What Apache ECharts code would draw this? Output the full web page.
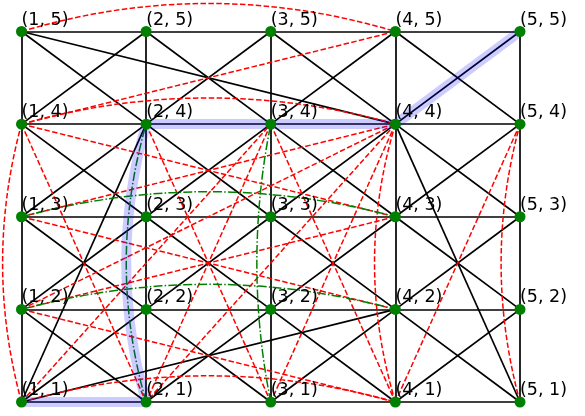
<!DOCTYPE html>
<html>
<head>
<meta charset="utf-8">
<script src="https://cdn.jsdelivr.net/npm/echarts@6/dist/echarts.min.js"></script>
<style>html,body{margin:0;padding:0;background:#fff}#c{width:585px;height:416px}</style>
</head>
<body>
<div id="c"></div>
<script>
// Node grid coordinates
const xs = [1, 2, 3, 4, 5];
const ys = [1, 2, 3, 4, 5];

// Edges written as "xy-xy" (source-target)
const blackEdges = [
  "11-21","21-31","31-41","41-51",
  "12-22","22-32","32-42","42-52",
  "13-23","23-33","33-43","43-53",
  "14-24","24-34","34-44","44-54",
  "15-25","25-35","35-45","45-55",
  "11-12","12-13","13-14","14-15",
  "21-22","22-23","23-24","24-25",
  "31-32","32-33","33-34","34-35",
  "41-42","42-43","43-44","44-45",
  "51-52","52-53","53-54","54-55",
  "11-22","21-12","21-32","31-22","31-42","41-32","41-52","51-42",
  "12-23","22-13","22-33","32-23","32-43","42-33","42-53","52-43",
  "13-24","23-14","23-34","33-24","33-44","43-34","43-54","53-44",
  "14-25","24-15","24-35","34-25","34-45","44-35","44-55","54-45",
  "15-44","44-51","11-24","11-42"
];
const redStraight = [
  "14-43","13-44","13-42","12-43","12-41","12-44","14-45","14-21",
  "24-31","34-21","34-41","44-31","44-21","11-34","54-41"
];
// curved edges: [edge, curveness]
const redCurved = [["15-45", 0.15], ["14-44", 0.14], ["11-41", 0.14], ["11-14", 0.136], ["41-44", 0.15], ["51-54", 0.136]];
const greenCurved = [["13-43", 0.134], ["12-42", 0.134], ["21-24", 0.143], ["31-34", 0.1]];
// highlighted path
const pathEdges = [["11-21", 0], ["21-24", 0.143], ["24-34", 0], ["34-44", 0], ["44-55", 0]];

const nodeName = (k) => '(' + k[0] + ', ' + k[1] + ')';
const nodes = [];
xs.forEach(x => ys.forEach(y => nodes.push({ name: '(' + x + ', ' + y + ')', value: [x, y] })));

function link(e, style) {
  const [a, b] = e.split('-');
  return { source: nodeName(a), target: nodeName(b), lineStyle: style };
}

const edgeLinks = [];
blackEdges.forEach(e => edgeLinks.push(link(e, { color: '#000', width: 1.7, type: 'solid', curveness: 0, opacity: 1 })));
redStraight.forEach(e => edgeLinks.push(link(e, { color: '#ff0000', width: 1.5, type: [5.5, 2.4], curveness: 0, opacity: 1 })));
redCurved.forEach(([e, c]) => edgeLinks.push(link(e, { color: '#ff0000', width: 1.5, type: [5.5, 2.4], curveness: c, opacity: 1 })));
greenCurved.forEach(([e, c]) => edgeLinks.push(link(e, { color: '#008000', width: 1.5, type: [9, 2.2, 1.5, 2.2], curveness: c, opacity: 1 })));

const bandLinks = pathEdges.map(([e, c]) => link(e, { color: 'rgba(0,0,255,0.2)', width: 10, type: 'solid', curveness: c, opacity: 1 }));

const chart = echarts.init(document.getElementById('c'), null, { renderer: 'canvas' });
chart.setOption({
  animation: false,
  backgroundColor: '#fff',
  grid: { left: 21.5, right: 65, top: 31.5, bottom: 14 },
  xAxis: { type: 'value', min: 1, max: 5, show: false },
  yAxis: { type: 'value', min: 1, max: 5, show: false },
  series: [
    {
      type: 'graph', coordinateSystem: 'cartesian2d', layout: 'none',
      symbolSize: 0, data: nodes, links: edgeLinks, label: { show: false },
      emphasis: { disabled: true }, silent: true, z: 1
    },
    {
      type: 'graph', coordinateSystem: 'cartesian2d', layout: 'none',
      symbolSize: 0, data: nodes, links: bandLinks, label: { show: false },
      emphasis: { disabled: true }, silent: true, z: 2
    },
    {
      type: 'scatter', z: 3, symbolSize: 11, silent: true,
      itemStyle: { color: '#008000', opacity: 1 },
      data: nodes.map(n => ({ name: n.name, value: n.value })),
      label: {
        show: true, formatter: p => p.name, position: [5.5, 3],
        align: 'left', verticalAlign: 'bottom',
        color: '#000', fontSize: 17.5, fontFamily: 'DejaVu Sans'
      }
    }
  ]
});
</script>
</body>
</html>
